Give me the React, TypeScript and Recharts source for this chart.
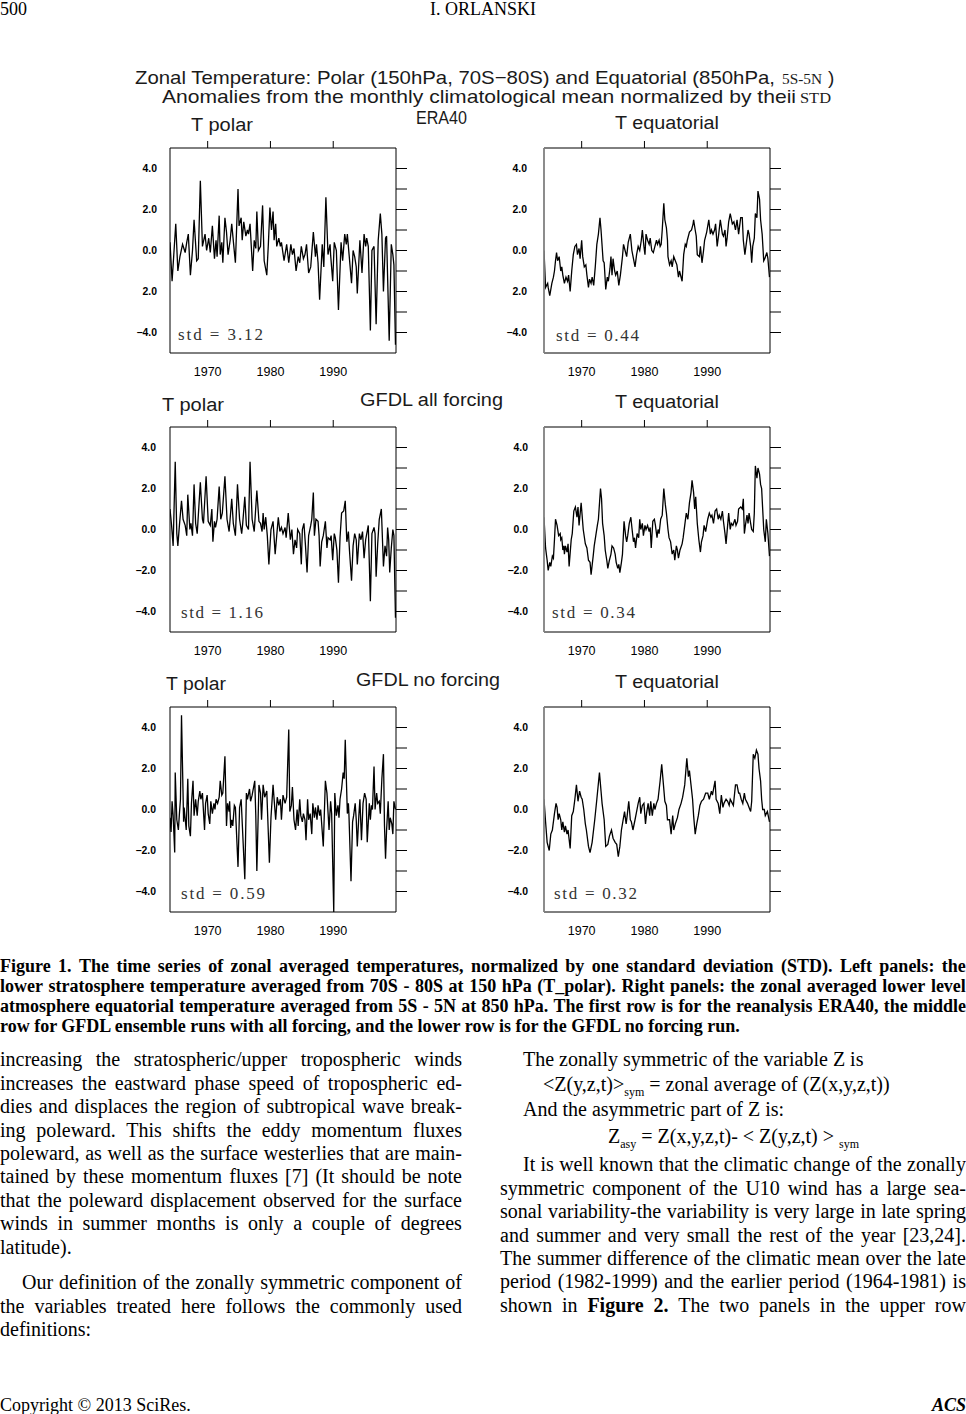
import React from 'react';
import { LineChart, Line, XAxis, YAxis } from 'recharts';

type Pt = [number, number]; // [months since Jan 1964, normalized anomaly]

const START_YEAR = 1964;
const X_DOMAIN: [number, number] = [1964, 2000];
const X_TICKS = [1970, 1980, 1990];
const Y_DOMAIN: [number, number] = [-5, 5];
const Y_LABEL_TICKS = [-4, -2, 0, 2, 4];
const Y_MINOR_TICKS = [-4, -3, -2, -1, 0, 1, 2, 3, 4];
const ROW1_Y_LABELS = ['\u22124.0', '2.0', '0.0', '2.0', '4.0'];
const Y_LABELS = ['\u22124.0', '\u22122.0', '0.0', '2.0', '4.0'];

const ERA40_POLAR: Pt[] = [
  [0,0.4],[4,-1.5],[11,1.3],[15,-1.0],[19,-0.3],[24,0.3],[29,-0.1],[32,0.4],[35,0.8],[39,-1.2],[43,0.0],[46,1.5],[51,-0.5],[54,-0.4],[58,3.4],[62,0.2],[67,0.8],[70,0.0],[74,0.6],[77,-0.1],[81,1.2],[85,-0.4],[88,0.5],[90,-0.3],[94,1.7],[96,-0.2],[99,0.4],[101,-0.6],[105,1.6],[108,0.9],[111,-0.2],[115,0.5],[118,1.3],[122,0.2],[125,-0.6],[130,3.0],[132,1.2],[136,1.6],[138,0.5],[141,1.4],[145,0.7],[148,1.0],[150,0.8],[153,1.3],[158,-1.0],[161,0.5],[164,0.1],[166,1.9],[169,0.0],[173,0.2],[177,2.2],[180,-0.5],[185,-1.2],[188,0.3],[191,2.1],[194,1.0],[197,1.9],[199,0.5],[202,1.3],[204,0.2],[208,0.6],[211,0.2],[213,0.4],[218,-0.5],[223,0.3],[227,-0.6],[231,0.3],[234,-0.2],[237,0.1],[241,-1.0],[245,-0.3],[248,-0.6],[251,0.2],[255,-0.4],[258,-0.2],[261,0.3],[265,-1.1],[269,-0.8],[274,0.9],[278,-0.3],[280,0.3],[283,-0.6],[286,-2.4],[291,0.3],[294,-0.8],[298,2.6],[302,-0.2],[306,0.3],[307,-0.2],[311,-1.5],[314,0.4],[318,0.0],[322,-2.9],[327,0.4],[330,-0.5],[334,0.8],[337,0.3],[339,0.8],[344,-0.7],[347,-1.6],[350,0.0],[353,-0.3],[356,-0.8],[358,-2.1],[363,0.5],[367,-1.1],[371,0.8],[374,0.2],[376,0.6],[379,0.2],[383,-3.9],[386,0.0],[390,0.2],[394,-3.6],[398,0.5],[402,1.8],[405,0.8],[408,-2.0],[412,0.6],[414,0.7],[419,-4.4],[423,0.3],[426,-0.2],[428,-0.7],[431,-4.6],
];

const ERA40_EQUATORIAL: Pt[] = [
  [0,0.0],[3,-1.8],[7,-1.6],[8,-1.8],[11,-2.2],[15,-1.6],[18,-1.3],[20,-1.0],[22,-0.5],[24,-0.1],[26,-0.5],[29,-0.3],[32,-1.0],[34,-0.8],[36,-1.2],[39,-1.6],[42,-1.3],[45,-1.5],[47,-1.2],[50,-2.0],[53,-1.0],[56,-0.2],[59,0.2],[62,0.3],[64,-0.2],[67,0.1],[69,-0.4],[72,0.5],[74,-0.3],[77,-0.8],[80,-0.7],[82,-1.2],[85,-1.8],[87,-1.4],[90,-1.6],[92,-1.3],[95,-1.7],[98,-0.8],[101,0.3],[104,0.8],[107,1.6],[109,1.0],[113,-0.5],[115,-0.6],[116,-1.0],[118,-1.9],[121,-1.3],[123,-1.5],[126,-0.9],[128,-0.3],[130,-1.2],[132,-0.4],[135,-1.0],[137,-1.2],[140,-1.0],[143,-1.7],[146,-1.2],[150,-0.3],[152,0.3],[155,0.0],[158,-0.3],[161,0.4],[165,0.8],[168,0.0],[171,-0.4],[174,-0.8],[177,-0.2],[180,0.2],[183,0.0],[186,0.5],[188,1.0],[191,0.2],[193,-0.2],[195,0.8],[198,0.5],[201,0.3],[203,0.6],[206,0.0],[209,-0.1],[211,0.1],[215,0.5],[217,0.3],[220,0.5],[222,0.2],[224,0.3],[226,1.0],[229,2.3],[231,1.5],[234,1.1],[236,0.5],[237,-0.3],[240,-0.7],[243,-0.5],[245,-0.8],[248,-0.3],[251,-0.5],[254,-0.7],[257,-1.3],[259,-1.0],[264,-1.5],[267,-0.2],[270,0.3],[272,0.2],[274,0.5],[278,0.9],[282,1.0],[285,1.3],[286,1.5],[289,1.0],[291,0.7],[293,-0.2],[297,-0.3],[299,0.2],[302,-0.6],[305,0.0],[307,0.5],[311,0.9],[315,1.5],[318,0.8],[320,1.0],[323,0.8],[326,1.0],[328,1.3],[331,0.2],[334,0.8],[337,1.5],[341,0.8],[343,0.7],[346,1.0],[348,0.2],[350,0.6],[353,1.4],[356,1.8],[360,1.3],[363,1.4],[366,1.0],[369,1.5],[372,0.8],[376,1.6],[379,1.6],[381,0.5],[384,-0.2],[386,0.2],[390,1.0],[392,0.8],[395,0.2],[397,-0.6],[399,0.2],[402,0.6],[404,1.8],[407,1.6],[409,2.9],[412,2.5],[414,1.5],[417,0.8],[420,-0.5],[422,-0.4],[426,-0.1],[428,-0.4],[431,-1.3],
];

const GFDL_ALL_POLAR: Pt[] = [
  [0,1.0],[3,0.2],[6,-0.8],[10,3.3],[13,-0.2],[15,-0.8],[18,0.2],[22,1.4],[25,0.5],[29,0.2],[32,-0.3],[34,1.7],[38,0.0],[40,0.3],[43,-0.3],[46,2.2],[49,0.3],[52,-0.2],[58,2.3],[62,0.5],[64,0.3],[69,2.6],[73,0.4],[77,0.2],[80,1.0],[82,-0.6],[85,0.4],[87,0.1],[90,0.5],[94,2.1],[97,0.5],[100,0.8],[105,2.6],[109,0.5],[113,-0.1],[118,1.5],[121,0.3],[125,-0.3],[129,2.2],[133,0.5],[137,-0.2],[139,0.3],[143,1.6],[146,0.2],[150,0.0],[153,3.3],[157,0.5],[161,-0.1],[166,1.9],[170,0.4],[173,0.3],[176,-0.1],[178,0.8],[180,0.0],[183,0.6],[186,-0.3],[189,-1.7],[193,0.0],[197,0.4],[201,-1.2],[204,-0.3],[207,0.6],[210,-0.1],[213,0.1],[216,-0.2],[220,0.1],[222,-0.4],[226,0.8],[230,-0.5],[233,0.0],[236,-1.2],[239,-0.5],[242,-0.9],[244,0.0],[248,-0.2],[251,-1.7],[253,0.0],[256,0.3],[259,-0.8],[262,-2.1],[265,-0.3],[269,0.2],[271,0.5],[274,1.8],[276,-0.3],[279,0.5],[283,0.4],[285,-0.3],[287,-1.8],[290,-0.6],[293,-0.3],[297,0.4],[300,-0.9],[302,-0.4],[306,-0.5],[308,-0.3],[311,-1.5],[314,-0.2],[316,-0.4],[319,-1.0],[322,-2.6],[325,-0.4],[328,0.8],[332,0.9],[335,1.4],[338,-0.6],[341,-0.1],[343,-1.0],[347,-2.5],[350,-0.8],[353,-0.2],[356,-0.5],[358,-1.7],[362,-0.2],[365,-0.5],[368,-0.1],[371,-1.4],[374,-0.5],[379,0.2],[383,-3.5],[386,-0.2],[390,0.1],[392,-0.2],[394,-2.3],[397,-0.7],[400,0.5],[404,1.0],[408,-1.8],[411,-0.8],[414,-1.3],[416,0.1],[418,-0.5],[420,-2.1],[423,-0.9],[426,0.0],[428,-0.3],[431,-4.3],
];

const GFDL_ALL_EQUATORIAL: Pt[] = [
  [0,0.6],[3,-0.9],[6,-1.5],[8,-2.0],[11,-1.6],[13,-1.8],[16,-1.3],[18,-1.4],[20,-0.5],[22,0.5],[25,0.2],[28,-0.3],[31,-0.2],[32,-0.5],[34,-0.4],[36,-1.0],[38,-0.8],[39,-1.2],[41,-0.8],[44,-1.1],[46,-0.7],[48,-1.8],[52,-0.5],[54,-0.2],[57,0.9],[60,1.1],[63,0.6],[65,1.1],[67,0.2],[71,1.3],[75,0.0],[79,-0.7],[82,-0.9],[85,-1.5],[88,-1.6],[90,-2.2],[94,-1.3],[96,-0.8],[99,-0.3],[102,0.2],[104,0.5],[108,2.0],[110,1.5],[112,0.3],[115,-0.3],[117,-1.0],[120,-1.5],[122,-1.9],[125,-1.5],[128,-1.2],[130,-0.8],[133,-0.9],[136,-1.2],[138,-1.6],[141,-1.9],[143,-1.7],[145,-2.1],[148,-1.6],[150,-1.2],[153,0.4],[156,-0.3],[158,-0.6],[160,-0.3],[163,0.3],[166,0.6],[168,0.1],[171,-0.6],[173,-0.4],[175,-0.9],[178,-0.2],[181,-0.4],[183,0.5],[185,0.0],[188,0.3],[190,-0.3],[193,0.2],[195,0.0],[198,0.2],[201,-0.1],[203,0.1],[205,-0.9],[208,0.4],[211,0.5],[213,0.2],[216,-0.4],[218,0.0],[220,-0.2],[223,0.5],[226,0.7],[229,2.0],[232,1.2],[234,0.8],[237,0.0],[239,-0.4],[242,-0.6],[245,-1.2],[248,-1.0],[250,-1.5],[253,-0.8],[255,-1.0],[257,-1.4],[260,-1.0],[264,-0.7],[266,-0.4],[269,0.2],[272,0.8],[275,0.5],[278,1.3],[281,1.8],[283,2.4],[286,1.8],[288,1.0],[290,1.6],[293,0.3],[296,-0.5],[299,-1.1],[301,-0.6],[304,-0.3],[306,0.2],[309,-0.1],[313,0.5],[316,0.8],[319,0.6],[321,0.7],[324,0.3],[327,0.9],[330,1.0],[333,0.5],[335,0.7],[338,0.5],[341,0.9],[343,0.4],[346,-0.2],[348,-0.7],[351,0.2],[353,0.8],[356,0.0],[358,0.3],[361,0.2],[365,0.5],[367,0.2],[370,0.4],[372,1.0],[376,1.1],[379,1.0],[381,1.5],[383,-0.2],[385,0.2],[388,0.7],[390,0.3],[392,0.8],[395,0.3],[397,0.0],[400,-0.1],[402,0.8],[404,3.1],[407,2.5],[409,3.0],[412,2.7],[414,2.2],[416,2.0],[418,1.0],[420,0.0],[423,-0.6],[425,0.5],[428,-0.2],[431,-1.3],
];

const GFDL_NO_POLAR: Pt[] = [
  [0,-0.4],[2,-1.1],[4,0.4],[6,-0.3],[9,-2.1],[10,1.8],[13,-0.5],[16,-1.0],[18,-0.2],[20,0.5],[22,4.6],[26,-0.6],[27,0.1],[31,-1.0],[34,1.5],[36,-0.8],[39,-1.3],[41,0.3],[44,1.4],[46,-0.3],[49,0.5],[52,-0.3],[54,0.4],[57,0.9],[59,0.5],[62,0.8],[66,-1.0],[68,0.3],[71,0.7],[73,-0.2],[76,-0.7],[78,0.4],[81,-0.2],[84,0.3],[86,0.0],[88,0.5],[91,0.3],[94,0.6],[96,1.4],[99,0.7],[101,0.8],[105,2.6],[108,-0.8],[110,0.3],[113,-0.1],[114,0.4],[116,-0.9],[118,-0.5],[120,-0.8],[123,0.2],[125,0.1],[130,-2.8],[133,0.1],[136,0.5],[143,-3.4],[146,0.8],[148,0.5],[152,1.0],[154,0.4],[157,0.7],[162,1.4],[164,-0.3],[166,-3.0],[170,1.2],[173,0.8],[175,-0.5],[178,1.2],[181,0.6],[185,0.9],[190,-2.6],[193,-0.4],[197,1.2],[199,0.5],[202,-0.5],[205,0.6],[208,0.2],[211,0.5],[213,-0.5],[216,0.7],[220,0.3],[223,0.6],[227,3.9],[229,-0.1],[232,0.2],[234,1.1],[237,-0.5],[240,-1.0],[243,0.0],[245,-0.8],[248,0.5],[250,-0.3],[253,-0.6],[255,-0.2],[258,-0.5],[260,-1.5],[263,0.5],[265,-0.5],[268,-0.2],[271,-1.2],[273,0.3],[276,-0.4],[278,0.1],[281,-0.5],[283,0.2],[286,-0.3],[288,0.0],[293,-1.8],[297,1.4],[300,0.8],[304,-1.0],[307,0.4],[309,-0.2],[313,-5.0],[315,0.8],[318,-0.3],[321,0.2],[323,-0.4],[325,0.5],[328,1.0],[331,1.8],[333,1.5],[335,3.4],[339,-0.2],[341,0.3],[342,-0.2],[346,-3.5],[349,-0.6],[351,-0.3],[354,0.3],[356,-0.5],[358,-1.8],[361,-0.3],[363,0.5],[366,-1.5],[369,0.3],[372,0.8],[375,0.5],[377,-1.6],[381,0.3],[383,-0.5],[385,0.2],[387,0.0],[390,2.1],[392,0.0],[395,0.8],[397,0.3],[400,0.4],[402,-0.2],[405,1.5],[408,2.7],[410,-0.8],[412,-2.4],[414,-1.0],[417,0.4],[419,-1.0],[421,-0.4],[424,-0.7],[426,-1.2],[428,0.4],[431,0.0],
];

const GFDL_NO_EQUATORIAL: Pt[] = [
  [0,0.5],[3,-0.6],[6,-1.6],[10,-2.0],[13,-1.2],[16,-1.0],[17,-0.8],[20,-0.2],[23,0.3],[25,0.1],[27,-0.5],[29,-0.2],[32,-0.5],[34,-1.0],[36,-0.6],[39,-1.1],[41,-0.8],[44,-1.2],[46,-1.0],[50,-1.9],[53,-0.3],[56,-0.1],[59,0.5],[62,1.2],[65,0.4],[68,0.9],[71,0.6],[73,0.5],[76,0.0],[79,-0.7],[81,-1.0],[85,-1.8],[88,-2.1],[92,-1.6],[97,-0.5],[101,0.5],[106,1.8],[109,0.9],[111,0.3],[115,-0.5],[118,-1.8],[122,-1.7],[125,-1.3],[129,-1.0],[132,-1.4],[136,-1.6],[139,-1.7],[142,-2.3],[145,-1.8],[148,-1.0],[152,-0.4],[154,-0.1],[157,-0.7],[159,-0.3],[162,0.4],[165,-0.5],[167,-0.6],[170,-1.0],[174,-0.5],[177,-0.1],[180,0.3],[183,0.6],[185,-0.2],[188,0.2],[191,0.3],[194,-0.7],[196,-0.2],[199,0.3],[202,-0.3],[204,0.4],[207,-0.3],[210,0.3],[212,0.0],[215,0.3],[218,0.5],[222,1.4],[225,2.2],[228,1.3],[231,0.4],[234,0.2],[236,-0.5],[240,-0.5],[243,-1.2],[246,-0.3],[248,-1.0],[251,-0.7],[255,-0.4],[258,0.0],[262,0.3],[265,0.6],[269,1.2],[273,2.5],[276,1.6],[278,1.9],[281,1.2],[284,0.5],[286,-0.3],[289,-1.2],[292,-0.7],[295,-0.3],[298,0.2],[301,0.4],[305,0.5],[309,0.8],[313,0.8],[316,0.5],[320,0.9],[322,0.7],[327,1.4],[329,0.5],[333,0.3],[336,-0.2],[339,0.7],[342,0.1],[344,0.3],[348,0.5],[351,0.4],[354,0.2],[356,0.5],[360,0.3],[362,0.2],[366,1.2],[369,1.2],[372,0.8],[374,0.8],[377,0.5],[380,0.3],[383,0.8],[385,0.5],[389,0.3],[392,0.1],[395,-0.1],[397,0.4],[400,2.7],[403,2.5],[406,2.9],[409,2.7],[411,2.0],[414,1.4],[416,0.5],[418,0.0],[421,0.0],[423,-0.3],[427,-0.1],[431,-0.6],
];

const STD_LABELS = ['std = 3.12', 'std = 0.44', 'std = 1.16', 'std = 0.34', 'std = 0.59', 'std = 0.32'];

const SANS = '"Liberation Sans", Arial, sans-serif';
const SERIF = '"Liberation Serif", "Times New Roman", serif';

const toRows = (pts: Pt[]) => pts.map(([m, v]) => ({ t: START_YEAR + m / 12, v }));

const LW = 44, TH = 12, RW = 16, BH = 30, PW = 226, PH = 205;

type PanelProps = {
  x: number; y: number; pts: Pt[]; labels: string[]; gap: number; right: boolean;
};

function Panel({ x, y, pts, labels, gap, right }: PanelProps) {
  const fmt = (v: number) => {
    const i = Y_LABEL_TICKS.indexOf(v);
    return i >= 0 ? labels[i] : '';
  };
  return (
    <div style={{ position: 'absolute', left: x - LW, top: y - TH }}>
      <LineChart width={LW + PW + RW} height={TH + PH + BH} data={toRows(pts)} margin={{ top: 0, right: 0, bottom: 0, left: 0 }}>
        <XAxis xAxisId="b" dataKey="t" type="number" domain={X_DOMAIN} ticks={X_TICKS} height={BH}
          tickLine={false} tickSize={0} tickMargin={14} axisLine={{ stroke: '#000' }}
          tick={{ fontSize: 12.5, fill: '#000', fontFamily: SANS }} allowDataOverflow />
        <XAxis xAxisId="t" orientation="top" dataKey="t" type="number" domain={X_DOMAIN} ticks={X_TICKS} height={TH}
          tickSize={7} tickFormatter={() => ''} axisLine={{ stroke: '#000' }} tickLine={{ stroke: '#000' }} allowDataOverflow />
        <YAxis yAxisId="l" domain={Y_DOMAIN} ticks={Y_LABEL_TICKS} width={LW} tickLine={false} tickSize={0} tickMargin={gap}
          tickFormatter={fmt} axisLine={{ stroke: right ? '#808080' : '#000', strokeWidth: right ? 1.8 : 1 }}
          tick={{ fontSize: 10.4, fontWeight: 'bold', fill: '#000', fontFamily: SANS }} allowDataOverflow />
        <YAxis yAxisId="r" orientation="right" domain={Y_DOMAIN} ticks={Y_MINOR_TICKS} width={RW} tickSize={11}
          tickFormatter={() => ''} axisLine={{ stroke: '#000' }} tickLine={{ stroke: '#000' }} allowDataOverflow />
        <Line xAxisId="b" yAxisId="l" dataKey="v" type="linear" stroke="#000" strokeWidth={1.3} dot={false} isAnimationActive={false} />
      </LineChart>
    </div>
  );
}

type Word = { w: string; b: boolean };
const words = (s: string): Word[] => s.split(' ').filter(Boolean).map((w) => (w.startsWith('*') ? { w: w.slice(1), b: true } : { w, b: false }));

function JLine({ x, y, w, text, size, lh, bold, indent = 0, justify = true }: {
  x: number; y: number; w: number; text: string; size: number; lh: number; bold?: boolean; indent?: number; justify?: boolean;
}) {
  const base: React.CSSProperties = {
    position: 'absolute', left: x + indent, top: y - lh / 2, width: w - indent, height: lh, lineHeight: `${lh}px`,
    fontFamily: SERIF, fontSize: size, fontWeight: bold ? 'bold' : 'normal', color: '#000', whiteSpace: 'nowrap',
  };
  if (!justify) {
    return <div style={base}>{words(text).map((t, i) => <span key={i} style={{ fontWeight: t.b || bold ? 'bold' : 'normal' }}>{i ? ' ' : ''}{t.w}</span>)}</div>;
  }
  return (
    <div style={{ ...base, display: 'flex', justifyContent: 'space-between' }}>
      {words(text).map((t, i) => <span key={i} style={{ fontWeight: t.b || bold ? 'bold' : 'normal' }}>{t.w}</span>)}
    </div>
  );
}

const CAPTION = [
  'Figure 1. The time series of zonal averaged temperatures, normalized by one standard deviation (STD). Left panels: the',
  'lower stratosphere temperature averaged from 70S - 80S at 150 hPa (T_polar). Right panels: the zonal averaged lower level',
  'atmosphere equatorial temperature averaged from 5S - 5N at 850 hPa. The first row is for the reanalysis ERA40, the middle',
  'row for GFDL ensemble runs with all forcing, and the lower row is for the GFDL no forcing run.',
];
const CAPTION_Y = [966, 986, 1006, 1026];

const LEFT_COL = [
  { t: 'increasing the stratospheric/upper tropospheric winds', y: 1060 },
  { t: 'increases the eastward phase speed of tropospheric ed-', y: 1083.4 },
  { t: 'dies and displaces the region of subtropical wave break-', y: 1106.8 },
  { t: 'ing poleward. This shifts the eddy momentum fluxes', y: 1130.2 },
  { t: 'poleward, as well as the surface westerlies that are main-', y: 1153.6 },
  { t: 'tained by these momentum fluxes [7] (It should be note', y: 1177 },
  { t: 'that the poleward displacement observed for the surface', y: 1200.4 },
  { t: 'winds in summer months is only a couple of degrees', y: 1223.8 },
  { t: 'latitude).', y: 1247.2, last: true },
  { t: 'Our definition of the zonally symmetric component of', y: 1283, indent: 22 },
  { t: 'the variables treated here follows the commonly used', y: 1306.4 },
  { t: 'definitions:', y: 1329.8, last: true },
];

const RIGHT_COL = [
  { t: 'It is well known that the climatic change of the zonally', y: 1165, indent: 23 },
  { t: 'symmetric component of the U10 wind has a large sea-', y: 1188.4 },
  { t: 'sonal variability-the variability is very large in late spring', y: 1211.8 },
  { t: 'and summer and very small the rest of the year [23,24].', y: 1235.2 },
  { t: 'The summer difference of the climatic mean over the late', y: 1258.6 },
  { t: 'period (1982-1999) and the earlier period (1964-1981) is', y: 1282 },
  { t: 'shown in *Figure *2. The two panels in the upper row', y: 1305.4 },
];

const PANELS = [
  { x: 170, y: 147.7, pts: ERA40_POLAR, labels: ROW1_Y_LABELS, gap: 13, right: false },
  { x: 544, y: 147.7, pts: ERA40_EQUATORIAL, labels: ROW1_Y_LABELS, gap: 17, right: true },
  { x: 170, y: 426.7, pts: GFDL_ALL_POLAR, labels: Y_LABELS, gap: 14, right: false },
  { x: 544, y: 426.7, pts: GFDL_ALL_EQUATORIAL, labels: Y_LABELS, gap: 16, right: true },
  { x: 170, y: 707.3, pts: GFDL_NO_POLAR, labels: Y_LABELS, gap: 14, right: false },
  { x: 544, y: 707.3, pts: GFDL_NO_EQUATORIAL, labels: Y_LABELS, gap: 16, right: true },
];

const STD_POS = [
  { x: 178, y: 340, len: 85 }, { x: 556, y: 341, len: 83 },
  { x: 181, y: 618, len: 82 }, { x: 552, y: 618, len: 83 },
  { x: 181, y: 899, len: 84 }, { x: 554, y: 899, len: 83 },
];

const FIG_TEXT = { fontFamily: SANS, fontSize: 18, fill: '#1a1a1a' } as const;

export default function App() {
  return (
    <div style={{ position: 'absolute', left: 0, top: 0, width: 966, height: 1414, background: '#fff', overflow: 'hidden' }}>
      <div style={{ position: 'absolute', left: 0, top: -1, fontFamily: SERIF, fontSize: 18, lineHeight: '20px' }}>500</div>
      <div style={{ position: 'absolute', left: 0, width: 966, top: -1, textAlign: 'center', fontFamily: SERIF, fontSize: 18, lineHeight: '20px' }}>I. ORLANSKI</div>

      {PANELS.map((p, i) => <Panel key={i} {...p} />)}

      <svg width={966} height={1414} style={{ position: 'absolute', left: 0, top: 0, pointerEvents: 'none' }}>
        <text x={135} y={84} {...FIG_TEXT} fontSize={19} textLength={640} lengthAdjust="spacingAndGlyphs">Zonal Temperature: Polar (150hPa, 70S{'\u2212'}80S) and Equatorial (850hPa,</text>
        <text x={782} y={84} fontFamily={SERIF} fontSize={15} fill="#1a1a1a" textLength={40} lengthAdjust="spacingAndGlyphs">5S-5N</text>
        <text x={828} y={84} {...FIG_TEXT} fontSize={19}>)</text>
        <text x={162} y={103} {...FIG_TEXT} fontSize={19} textLength={634} lengthAdjust="spacingAndGlyphs">Anomalies from the monthly climatological mean normalized by theii</text>
        <text x={800} y={103} fontFamily={SERIF} fontSize={15} fill="#1a1a1a" textLength={31} lengthAdjust="spacingAndGlyphs">STD</text>

        <text x={191} y={131} {...FIG_TEXT} textLength={62} lengthAdjust="spacingAndGlyphs">T polar</text>
        <text x={416} y={124} {...FIG_TEXT} textLength={51} lengthAdjust="spacingAndGlyphs">ERA40</text>
        <text x={615} y={129} {...FIG_TEXT} textLength={104} lengthAdjust="spacingAndGlyphs">T equatorial</text>

        <text x={162} y={411} {...FIG_TEXT} textLength={62} lengthAdjust="spacingAndGlyphs">T polar</text>
        <text x={360} y={406} {...FIG_TEXT} textLength={143} lengthAdjust="spacingAndGlyphs">GFDL all forcing</text>
        <text x={615} y={408} {...FIG_TEXT} textLength={104} lengthAdjust="spacingAndGlyphs">T equatorial</text>

        <text x={166} y={690} {...FIG_TEXT} textLength={60} lengthAdjust="spacingAndGlyphs">T polar</text>
        <text x={356} y={686} {...FIG_TEXT} textLength={144} lengthAdjust="spacingAndGlyphs">GFDL no forcing</text>
        <text x={615} y={688} {...FIG_TEXT} textLength={104} lengthAdjust="spacingAndGlyphs">T equatorial</text>

        {STD_POS.map((s, i) => (
          <text key={i} x={s.x} y={s.y} fontFamily={SERIF} fontSize={17} fill="#333" textLength={s.len} lengthAdjust="spacing">{STD_LABELS[i]}</text>
        ))}
      </svg>

      {CAPTION.map((t, i) => (
        <JLine key={i} x={0} y={CAPTION_Y[i]} w={966} text={t} size={18} lh={20} bold justify={i < CAPTION.length - 1} />
      ))}

      {LEFT_COL.map((l, i) => (
        <JLine key={i} x={0} y={l.y} w={462} text={l.t} size={20} lh={23.4} indent={l.indent || 0} justify={!l.last} />
      ))}

      <div style={{ position: 'absolute', left: 523, top: 1060 - 11.7, lineHeight: '23.4px', fontFamily: SERIF, fontSize: 20, whiteSpace: 'nowrap' }}>The zonally symmetric of the variable Z is</div>
      <div style={{ position: 'absolute', left: 543, top: 1085 - 11.7, lineHeight: '23.4px', fontFamily: SERIF, fontSize: 20, whiteSpace: 'nowrap' }}>
        &lt;Z(y,z,t)&gt;<sub style={{ fontSize: 12 }}>sym</sub> = zonal average of (Z(x,y,z,t))
      </div>
      <div style={{ position: 'absolute', left: 523, top: 1110 - 11.7, lineHeight: '23.4px', fontFamily: SERIF, fontSize: 20, whiteSpace: 'nowrap' }}>And the asymmetric part of Z is:</div>
      <div style={{ position: 'absolute', left: 608, top: 1137 - 11.7, lineHeight: '23.4px', fontFamily: SERIF, fontSize: 20, whiteSpace: 'nowrap' }}>
        Z<sub style={{ fontSize: 12 }}>asy</sub> = Z(x,y,z,t)- &lt; Z(y,z,t) &gt; <sub style={{ fontSize: 12 }}>sym</sub>
      </div>

      {RIGHT_COL.map((l, i) => (
        <JLine key={i} x={500} y={l.y} w={466} text={l.t} size={20} lh={23.4} indent={l.indent || 0} />
      ))}

      <div style={{ position: 'absolute', left: 0, top: 1395, lineHeight: '20px', fontFamily: SERIF, fontSize: 18 }}>Copyright © 2013 SciRes.</div>
      <div style={{ position: 'absolute', right: 0, top: 1395, lineHeight: '20px', fontFamily: SERIF, fontSize: 18, fontWeight: 'bold', fontStyle: 'italic' }}>ACS</div>
    </div>
  );
}
